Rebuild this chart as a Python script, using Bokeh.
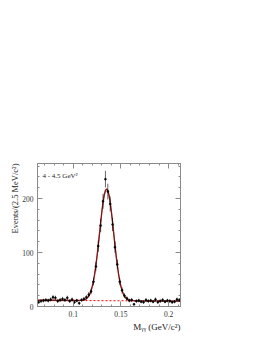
import math
from bokeh.plotting import figure
from bokeh.models import Range1d, LinearAxis, Label, Title, ColumnDataSource, FixedTicker, CustomJSTickFormatter
from bokeh.embed import file_html
from bokeh.resources import INLINE

# bin centres (GeV/c^2), 2.5 MeV bins
bin_centers = [0.06375, 0.06625, 0.06875, 0.07125, 0.07375, 0.07625, 0.07875, 0.08125, 0.08375, 0.08625,
               0.08875, 0.09125, 0.09375, 0.09625, 0.09875, 0.10125, 0.10375, 0.10625, 0.10875, 0.11125,
               0.11375, 0.11625, 0.11875, 0.12125, 0.12375, 0.12625, 0.12875, 0.13125, 0.13375, 0.13625,
               0.13875, 0.14125, 0.14375, 0.14625, 0.14875, 0.15125, 0.15375, 0.15625, 0.15875, 0.16125,
               0.16375, 0.16625, 0.16875, 0.17125, 0.17375, 0.17625, 0.17875, 0.18125, 0.18375, 0.18625,
               0.18875, 0.19125, 0.19375, 0.19625, 0.19875, 0.20125, 0.20375, 0.20625, 0.20875, 0.21125]
events = [8, 10, 11, 12, 11, 13, 17, 16, 10, 12,
          14, 12, 16, 10, 13, 8, 11, 6, 12, 14,
          17, 22, 28, 46, 74, 112, 150, 195, 236, 213,
          190, 152, 110, 78, 46, 30, 20, 15, 11, 12,
          4, 10, 11, 9, 8, 12, 10, 11, 9, 13,
          8, 10, 12, 9, 11, 10, 8, 9, 13, 12]

# fitted total curve
fit_x = [0.0625, 0.105, 0.10625, 0.1075, 0.10875, 0.11, 0.11125, 0.1125, 0.11375, 0.115,
         0.11625, 0.1175, 0.11875, 0.12, 0.12125, 0.1225, 0.12375, 0.125, 0.12625, 0.1275,
         0.12875, 0.13, 0.13125, 0.1325, 0.13375, 0.135, 0.13625, 0.1375, 0.13875, 0.14,
         0.14125, 0.1425, 0.14375, 0.145, 0.14625, 0.1475, 0.14875, 0.15, 0.15125, 0.1525,
         0.15375, 0.155, 0.15625, 0.1575, 0.15875, 0.16, 0.16125, 0.1625, 0.16375, 0.165, 0.2125]
fit_y = [11.5, 11.1, 11.1, 11.3, 11.4, 11.7, 12.2, 13.0, 14.4, 16.4,
         19.4, 23.6, 29.6, 37.5, 47.8, 60.6, 76.1, 94.0, 113.8, 134.7,
         155.7, 175.6, 192.9, 206.3, 214.9, 217.8, 214.9, 206.3, 192.9, 175.6,
         155.7, 134.7, 113.7, 93.9, 76.0, 60.5, 47.6, 37.3, 29.4, 23.4,
         19.1, 16.1, 14.1, 12.8, 12.0, 11.5, 11.2, 11.0, 10.9, 10.5, 10.0]

# background component
bkg_x = [0.0625, 0.2125]
bkg_y = [11.5, 10.0]

x_ticks = [0.1, 0.15, 0.2]
x_minor = [0.07, 0.08, 0.09, 0.11, 0.12, 0.13, 0.14, 0.16, 0.17, 0.18, 0.19, 0.21]
y_ticks = [0, 100, 200]
y_minor = [20, 40, 60, 80, 120, 140, 160, 180, 220, 240, 260]

err_lo = [n - math.sqrt(n) for n in events]
err_hi = [n + math.sqrt(n) for n in events]
src = ColumnDataSource(dict(x=bin_centers, y=events, lo=err_lo, hi=err_hi))

FONT = "Liberation Serif"
GRAY = "#8a8a8a"
TXT = "#222222"

p = figure(width=262, height=340, x_range=Range1d(0.0625, 0.2125), y_range=Range1d(0, 265),
           output_backend="svg", toolbar_location=None,
           min_border_left=37, min_border_right=82, min_border_top=163, min_border_bottom=34)
p.xgrid.visible = False
p.ygrid.visible = False
p.outline_line_color = GRAY
p.outline_line_width = 1

bottom_ax = p.xaxis[0]
left_ax = p.yaxis[0]
bottom_ax.ticker = FixedTicker(ticks=x_ticks, minor_ticks=x_minor)
bottom_ax.formatter = CustomJSTickFormatter(code="return String(Number(tick.toFixed(4)));")
left_ax.ticker = FixedTicker(ticks=y_ticks, minor_ticks=y_minor)

top_ax = LinearAxis(ticker=FixedTicker(ticks=x_ticks, minor_ticks=x_minor), major_label_text_font_size="0px",
                    major_label_text_color=None)
right_ax = LinearAxis(ticker=FixedTicker(ticks=y_ticks, minor_ticks=y_minor), major_label_text_font_size="0px",
                      major_label_text_color=None)
p.add_layout(top_ax, "above")
p.add_layout(right_ax, "right")

for ax in [bottom_ax, left_ax, top_ax, right_ax]:
    ax.axis_line_color = GRAY
    ax.major_tick_line_color = GRAY
    ax.minor_tick_line_color = GRAY
    ax.major_tick_in = 5
    ax.major_tick_out = 0
    ax.minor_tick_in = 2
    ax.minor_tick_out = 0
for ax in [bottom_ax, left_ax]:
    ax.major_label_text_font = FONT
    ax.major_label_text_font_size = "7.5px"
    ax.major_label_text_color = "#333333"
    ax.major_label_standoff = 4
top_ax.major_label_standoff = 0
right_ax.major_label_standoff = 0

p.line(bkg_x, bkg_y, line_color="red", line_dash="2 2", line_width=1)
p.line(fit_x, fit_y, line_color="#d02020", line_width=1.4)
p.line(fit_x, fit_y, line_color="#202020", line_width=0.6)
p.segment(x0="x", y0="lo", x1="x", y1="hi", source=src, line_color="black", line_width=0.6)
p.scatter(x="x", y="y", source=src, size=2.0, marker="circle", fill_color="black", line_color="black",
          line_width=0.5)

# in-frame annotation
p.add_layout(Label(x=5, y=131, x_units="screen", y_units="screen", text="4 - 4.5 GeV²",
                   text_font=FONT, text_font_size="7px", text_baseline="middle",
                   text_align="left", text_color=TXT))

# axis titles as side titles
p.add_layout(Title(text="Events/(2.5 MeV/c²)", align="right", text_font=FONT, text_font_size="8.5px",
                   text_font_style="normal", text_color=TXT, standoff=0, offset=0), "left")
p.add_layout(Title(text="Mᵧᵧ (GeV/c²)", align="right", text_font=FONT, text_font_size="9px",
                   text_font_style="normal", text_color=TXT, standoff=0, offset=0), "below")

open("out.html", "w").write(file_html(p, INLINE))
